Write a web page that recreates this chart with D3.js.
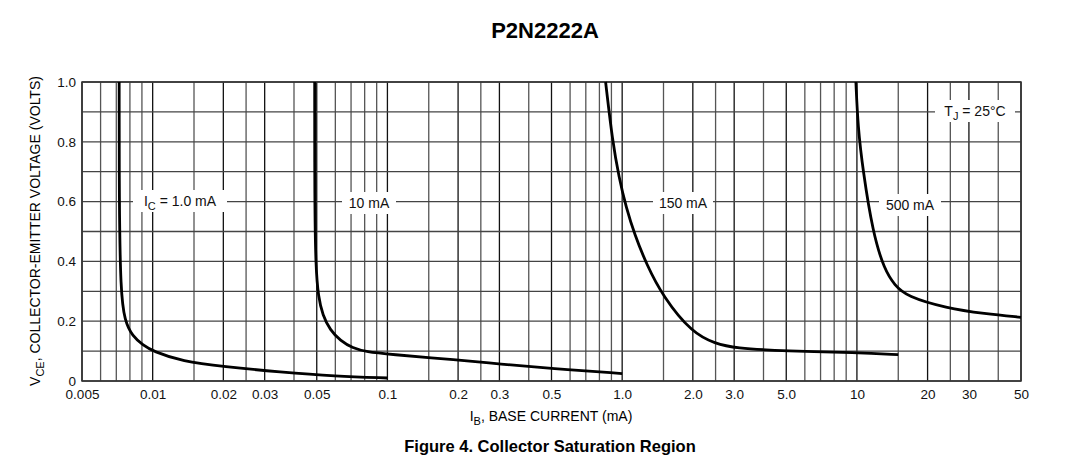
<!DOCTYPE html>
<html><head><meta charset="utf-8">
<script src="https://cdn.jsdelivr.net/npm/d3@7"></script>
<style>body{margin:0;background:#fff}text{font-family:"Liberation Sans",Arial,sans-serif}</style>
</head><body>
<svg id="chart" width="1085" height="471"></svg>
<script>
// Collector saturation curves
const curve1mA = [[0.0072,1.0],[0.0072,0.6],[0.0073,0.3],[0.0076,0.2],[0.0082,0.15],[0.0091,0.12],[0.01,0.1],[0.0134,0.065],[0.02,0.048],[0.035,0.03],[0.06,0.016],[0.1,0.01]];
const curve10mA = [[0.049,1.0],[0.049,0.6],[0.0495,0.38],[0.0508,0.28],[0.053,0.22],[0.057,0.17],[0.063,0.135],[0.071,0.11],[0.082,0.097],[0.1,0.09],[0.2,0.07],[0.3,0.057],[0.5,0.042],[1.0,0.025]];
const curve150mA = [[0.85,1.0],[0.91,0.8],[0.97,0.68],[1.04,0.58],[1.13,0.49],[1.27,0.39],[1.49,0.283],[1.99,0.16],[2.5,0.125],[3.0,0.11],[5.0,0.1],[10,0.095],[15,0.088]];
const curve500mA = [[9.9,1.0],[10.1,0.85],[10.6,0.706],[11.7,0.494],[13.1,0.372],[14.5,0.32],[16.3,0.283],[24,0.244],[35,0.225],[50,0.213]];
const xTickVals = [0.005,0.01,0.02,0.03,0.05,0.1,0.2,0.3,0.5,1,2,3,5,10,20,30,50];
const xTickText = ["0.005","0.01","0.02","0.03","0.05","0.1","0.2","0.3","0.5","1.0","2.0","3.0","5.0","10","20","30","50"];
const yTickVals = [0,0.2,0.4,0.6,0.8,1.0];
const yTickText = ["0","0.2","0.4","0.6","0.8","1.0"];
const gridMantissas = [1,1.5,2,2.5,3,4,5,6,7,8,9];

const svg = d3.select("#chart");
const L = 82, R = 1021, T = 82, B = 381;
const x = d3.scaleLog().domain([0.005, 50]).range([L, R]);
const y = d3.scaleLinear().domain([0, 1]).range([B, T]);

// grid
let gx = [];
[0.001,0.01,0.1,1,10].forEach(d => gridMantissas.forEach(m => {
  const v = +(m * d).toPrecision(3);
  if (v >= 0.005 && v <= 50) gx.push(v);
}));
const major = new Set(xTickVals);
const g = svg.append("g");
g.selectAll(".vg").data(gx).join("line")
  .attr("x1", d => x(d)).attr("x2", d => x(d)).attr("y1", T).attr("y2", B)
  .attr("stroke", d => major.has(d) ? "#111" : "#555").attr("stroke-width", 1.3);
g.selectAll(".hg").data(d3.range(0, 11).map(i => i / 10)).join("line")
  .attr("x1", L).attr("x2", R).attr("y1", d => y(d)).attr("y2", d => y(d))
  .attr("stroke", "#444").attr("stroke-width", 1.3);
g.append("rect").attr("x", L).attr("y", T).attr("width", R - L).attr("height", B - T)
  .attr("fill", "none").attr("stroke", "#333").attr("stroke-width", 1.5);

// label backgrounds (white) then text
function label(cx, cy, w, parts) {
  g.append("rect").attr("x", cx - w / 2).attr("y", cy - 11).attr("width", w).attr("height", 22).attr("fill", "#fff");
  const t = g.append("text").attr("x", cx).attr("y", cy + 5).attr("text-anchor", "middle")
    .attr("font-size", 14).attr("fill", "#111");
  parts.forEach(p => {
    const s = t.append("tspan").text(p[0]);
    if (p[1]) s.attr("font-size", 11).attr("dy", 4); else if (p[2]) s.attr("dy", -4);
  });
}
label(180, 201, 94, [["I"],["C",1],[" = 1.0 mA",0,1]]);
label(369, 203, 54, [["10 mA"]]);
label(683, 203, 60, [["150 mA"]]);
label(910, 205, 62, [["500 mA"]]);
label(975, 111, 80, [["T"],["J",1],[" = 25°C",0,1]]);

// curves
const lineC = d3.line().x(d => x(d[0])).y(d => y(d[1])).curve(d3.curveBasis);
[curve1mA, curve10mA, curve150mA, curve500mA].forEach(c => {
  g.append("path").attr("d", lineC(c)).attr("fill", "none").attr("stroke", "#000").attr("stroke-width", 2.8);
});

// axes
svg.append("g").attr("transform", `translate(0,${B})`)
  .call(d3.axisBottom(x).tickValues(xTickVals).tickFormat((d, i) => xTickText[i]).tickSize(0).tickPadding(8))
  .call(a => a.select(".domain").remove())
  .selectAll("text").attr("font-size", 13.5).attr("fill", "#111").style("font-family", "Liberation Sans, Arial");
svg.append("g").attr("transform", `translate(${L},0)`)
  .call(d3.axisLeft(y).tickValues(yTickVals).tickFormat((d, i) => yTickText[i]).tickSize(0).tickPadding(6))
  .call(a => a.select(".domain").remove())
  .selectAll("text").attr("font-size", 13.5).attr("fill", "#111").style("font-family", "Liberation Sans, Arial");

// titles
svg.append("text").attr("x", 545).attr("y", 38).attr("text-anchor", "middle")
  .attr("font-size", 22).attr("font-weight", "bold").text("P2N2222A");
const xl = svg.append("text").attr("x", 551).attr("y", 421).attr("text-anchor", "middle").attr("font-size", 14);
xl.append("tspan").text("I");
xl.append("tspan").text("B").attr("font-size", 11).attr("dy", 4);
xl.append("tspan").text(", BASE CURRENT (mA)").attr("dy", -4);
svg.append("text").attr("x", 550).attr("y", 452).attr("text-anchor", "middle")
  .attr("font-size", 16.5).attr("font-weight", "bold").text("Figure 4. Collector Saturation Region");
const yl = svg.append("text").attr("transform", "translate(40,231) rotate(-90)").attr("text-anchor", "middle").attr("font-size", 14);
yl.append("tspan").text("V");
yl.append("tspan").text("CE").attr("font-size", 11).attr("dy", 4);
yl.append("tspan").text(", COLLECTOR-EMITTER VOLTAGE (VOLTS)").attr("dy", -4);
</script>
</body></html>
